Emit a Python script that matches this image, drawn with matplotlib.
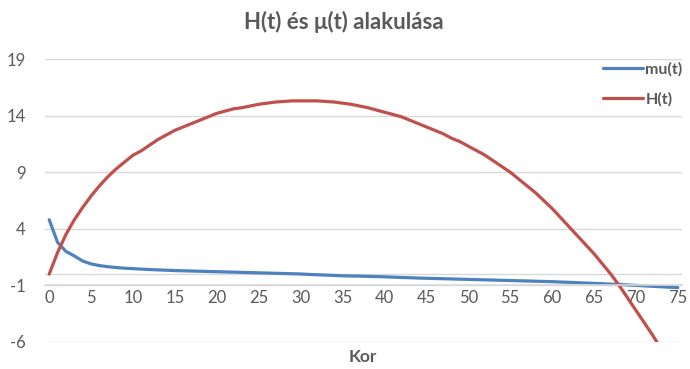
import numpy as np
import matplotlib
matplotlib.use("Agg")
import matplotlib.pyplot as plt

plt.rcParams['font.family'] = ['Lato', 'DejaVu Sans']
plt.rcParams['axes.unicode_minus'] = False

# Kor (age), 0..75
ages = list(range(76))

# H(t)
h_vals = [
    0.0, 1.9, 3.5, 4.8, 5.9, 6.9, 7.8, 8.6, 9.3, 9.9,
    10.5, 10.9, 11.4, 11.9, 12.3, 12.7, 13.0, 13.3, 13.6, 13.9,
    14.2, 14.4, 14.6, 14.7, 14.85, 15.0, 15.1, 15.2, 15.25, 15.3,
    15.3, 15.3, 15.3, 15.25, 15.2, 15.1, 15.0, 14.85, 14.7, 14.5,
    14.3, 14.1, 13.9, 13.6, 13.3, 13.0, 12.7, 12.4, 12.0, 11.7,
    11.3, 10.9, 10.5, 10.0, 9.5, 9.0, 8.4, 7.8, 7.2, 6.5,
    5.8, 5.0, 4.2, 3.4, 2.6, 1.8, 0.9, 0.0, -1.0, -2.1,
    -3.2, -4.3, -5.4, -6.6, -7.8, -9.0,
]

# mu(t)
mu_vals = [
    4.8, 2.8, 2.0, 1.6, 1.15, 0.9, 0.75, 0.65, 0.58, 0.52,
    0.48, 0.44, 0.40, 0.37, 0.34, 0.31, 0.29, 0.27, 0.25, 0.23,
    0.21, 0.19, 0.17, 0.15, 0.13, 0.11, 0.09, 0.07, 0.05, 0.03,
    0.01, -0.03, -0.06, -0.09, -0.12, -0.15, -0.17, -0.18, -0.20, -0.22,
    -0.24, -0.27, -0.30, -0.32, -0.35, -0.37, -0.39, -0.41, -0.43, -0.45,
    -0.47, -0.49, -0.51, -0.53, -0.55, -0.57, -0.59, -0.61, -0.63, -0.65,
    -0.67, -0.70, -0.73, -0.76, -0.79, -0.82, -0.85, -0.89, -0.92, -0.96,
    -1.00, -1.04, -1.08, -1.12, -1.16, -1.20,
]

y_ticks = [-6, -1, 4, 9, 14, 19]
x_ticks = list(range(0, 76, 5))

txt = '#595959'
grid = '#D9D9D9'

fig = plt.figure(figsize=(6.9, 3.69), dpi=100)
ax = fig.add_axes([45 / 690, 1 - 342 / 369, 637 / 690, 283 / 369])

ax.plot(ages, mu_vals, color='#4F81BD', lw=2.3, label='mu(t)', solid_capstyle='round')
ax.plot(ages, h_vals, color='#C0504D', lw=2.3, label='H(t)', solid_capstyle='round')

ax.set_xlim(-0.5, 75.5)
ax.set_ylim(-6, 19)
ax.set_yticks(y_ticks)
ax.set_xticks(x_ticks)
ax.yaxis.grid(True, color=grid, lw=1)
ax.axhline(0, color=grid, lw=1, zorder=0)
ax.set_axisbelow(True)

for s in ('top', 'right', 'left'):
    ax.spines[s].set_visible(False)
ax.spines['bottom'].set_position(('data', -1))
ax.spines['bottom'].set_color(grid)
ax.spines['bottom'].set_linewidth(1.2)

ax.tick_params(axis='both', length=0, colors=txt, labelsize=12)
ax.tick_params(axis='y', pad=14)
ax.tick_params(axis='x', pad=3)

fig.text(344 / 690, 1 - 22 / 369, 'H(t) és μ(t) alakulása', ha='center', va='center',
         fontsize=16, fontweight='bold', color=txt)
fig.text(363 / 690, 1 - 357 / 369, 'Kor', ha='center', va='center',
         fontsize=12.5, fontweight='bold', color=txt)

leg = ax.legend(loc='upper left', bbox_to_anchor=(603 / 690, 1 - 62 / 369),
                bbox_transform=fig.transFigure, frameon=False, handlelength=2.5,
                handletextpad=0.15, labelspacing=0.95, borderpad=0, borderaxespad=0,
                prop={'size': 11.5, 'weight': 'bold'})
for t in leg.get_texts():
    t.set_color(txt)

fig.savefig('out.png', dpi=100)
